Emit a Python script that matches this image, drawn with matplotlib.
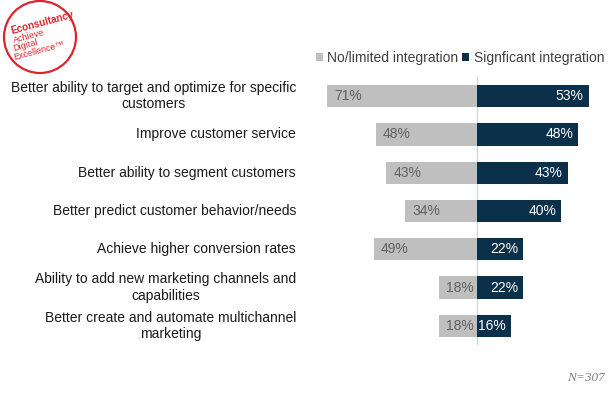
import matplotlib
matplotlib.use("Agg")
import matplotlib.pyplot as plt
from matplotlib.patches import Ellipse

categories = [
    "Better ability to target and optimize for specific\ncustomers",
    "Improve customer service",
    "Better ability to segment customers",
    "Better predict customer behavior/needs",
    "Achieve higher conversion rates",
    "Ability to add new marketing channels and\ncapabilities",
    "Better create and automate multichannel\nmarketing",
]
no_limited = [71, 48, 43, 34, 49, 18, 18]
significant = [53, 48, 43, 40, 22, 22, 16]
series_names = ["No/limited integration", "Signficant integration"]

GRAY = "#BFBFBF"
NAVY = "#0B3049"
RED = "#D9262E"

plt.rcParams['font.family'] = ['Liberation Sans', 'DejaVu Sans']

W, H = 615, 395
fig = plt.figure(figsize=(W / 100, H / 100), dpi=100)

# axes: x from 318px to 610px ; y from 77px to 345px
ax_l, ax_r = 318, 610
ax_t, ax_b = 77, 345
ax = fig.add_axes([ax_l / W, 1 - ax_b / H, (ax_r - ax_l) / W, (ax_b - ax_t) / H])
s = 2.11
ax.set_xlim(-(477 - ax_l) / s, (ax_r - 477) / s)
n = len(categories)
ax.set_ylim(n - 0.5, -0.5)

ypos = list(range(n))
ax.barh(ypos, [-v for v in no_limited], height=0.58, color=GRAY, label=series_names[0])
ax.barh(ypos, significant, height=0.58, color=NAVY, label=series_names[1])
ax.axvline(0, color="#D0D0D0", lw=0.8, zorder=0)

for y, v in zip(ypos, no_limited):
    ax.text(-v + 3.5, y, f"{v}%", ha="left", va="center", color="#606060", fontsize=10)
for y, v in zip(ypos, significant):
    ax.text(v - 2.5, y, f"{v}%", ha="right", va="center", color="white", fontsize=10)

ax.set_yticks([])
ax.set_xticks([])
for sp in ax.spines.values():
    sp.set_visible(False)

# category labels (block right-aligned, lines centered)
for y, c in zip(ypos, categories):
    ax.annotate(c, xy=(0, y), xycoords=("figure fraction", "data"),
                xytext=(296, 0), textcoords="offset pixels",
                ha="right", va="center", multialignment="center",
                fontsize=10, color="#1A1A1A", linespacing=1.2)

# legend
fig.legend(loc="center left", bbox_to_anchor=(316 / W, 1 - 58 / H), ncol=2,
           frameon=False, fontsize=10, handlelength=0.5, handleheight=0.5,
           handletextpad=0.3, columnspacing=0.3, labelcolor="#404040",
           borderaxespad=0, borderpad=0)

# N=307
fig.text(586 / W, 1 - 378 / H, "N=307", ha="center", va="center", color="#808080",
         fontsize=9.5, family="Liberation Serif", style="italic")

# logo
circ = Ellipse((40 / W, 1 - 37 / H), 72 / W, 72 / H, transform=fig.transFigure,
               fill=False, edgecolor=RED, lw=1.6)
fig.patches.append(circ)
fig.text(12 / W, 1 - 34 / H, "Econsultancy", ha="left", va="baseline", color=RED,
         fontsize=7.2, fontweight="bold", rotation=15, rotation_mode="anchor")
for i, t in enumerate(["Achieve", "Digital", "Excellence\u2122"]):
    fig.text(14 / W, 1 - (43 + i * 8.5) / H, t, ha="left", va="baseline",
             color=RED, fontsize=6.5, rotation=15, rotation_mode="anchor")

fig.savefig("out.png", dpi=100)
